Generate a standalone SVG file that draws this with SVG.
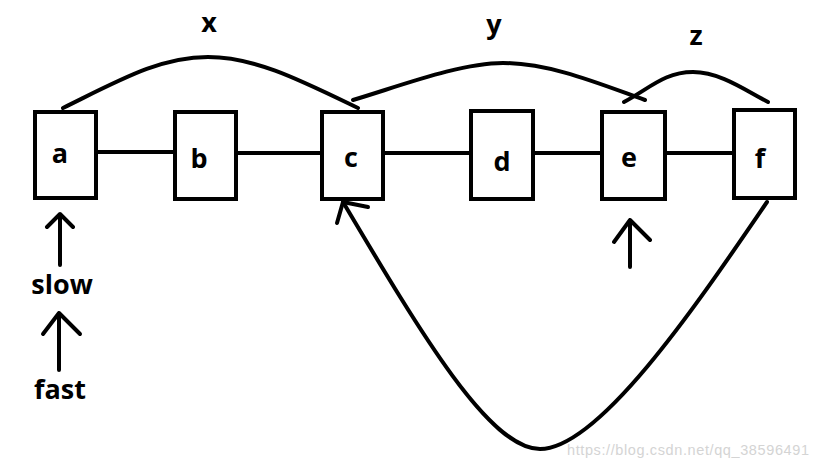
<svg xmlns="http://www.w3.org/2000/svg" width="818" height="467" viewBox="0 0 818 467">
<style>
.box{fill:#fff;stroke:#000;stroke-width:4}
.ln{fill:none;stroke:#000;stroke-width:4;stroke-linecap:round;stroke-linejoin:round}
.t{font-family:"Open Sans","DejaVu Sans",sans-serif;font-weight:bold;font-size:27px;fill:#000;text-anchor:middle}
.wm{font-family:"Liberation Sans",Arial,sans-serif;font-size:14.5px;fill:#d4d4d4}
</style>
<rect width="818" height="467" fill="#fff"/>
<g id="connectors">
<path class="ln" d="M97,152 H173"/>
<path class="ln" d="M238,153 H320"/>
<path class="ln" d="M385,153 H469"/>
<path class="ln" d="M535,153 H600"/>
<path class="ln" d="M667,153 H732"/>
<path class="ln" d="M63,108 C120,80 160,57 208,57 C255,57 300,80 358,108"/>
<path class="ln" d="M353,100 C400,86 460,63 503,63 C550,63 600,84 645,100"/>
<path class="ln" d="M624,102 C650,88 665,72 693,72 C720,72 745,90 768,102"/>
<path class="ln" d="M767,202 C700,300 600,449 540,449 C490,449 423,337 343,202"/>
<path class="ln" d="M337,223 L343,202 L368,207"/>
<path class="ln" d="M60,265 V214 M47,227 L60,214 L73,227"/>
<path class="ln" d="M59,370 V313 M43,334 L59,313 L80,334"/>
<path class="ln" d="M630,267 V220 M614,242 L630,220 L650,240"/>
</g>
<g id="node-a"><rect class="box" x="35" y="112" width="61" height="86"/><text class="t" x="60" y="163">a</text></g>
<g id="node-b"><rect class="box" x="175" y="112" width="61" height="87"/><text class="t" x="199" y="168">b</text></g>
<g id="node-c"><rect class="box" x="322" y="112" width="61" height="87"/><text class="t" x="351" y="167">c</text></g>
<g id="node-d"><rect class="box" x="471" y="111" width="62" height="88"/><text class="t" x="502" y="171">d</text></g>
<g id="node-e"><rect class="box" x="602" y="112" width="63" height="87"/><text class="t" x="629" y="167">e</text></g>
<g id="node-f"><rect class="box" x="734" y="110" width="61" height="88"/><text class="t" x="760" y="168">f</text></g>
<g id="labels">
<text class="t" x="209" y="32">x</text>
<text class="t" x="494" y="34">y</text>
<text class="t" x="696" y="45">z</text>
<text class="t" x="62" y="294">slow</text>
<text class="t" x="60" y="399">fast</text>
</g>
<text class="wm" x="567" y="455" textLength="242">https://blog.csdn.net/qq_38596491</text>
</svg>
